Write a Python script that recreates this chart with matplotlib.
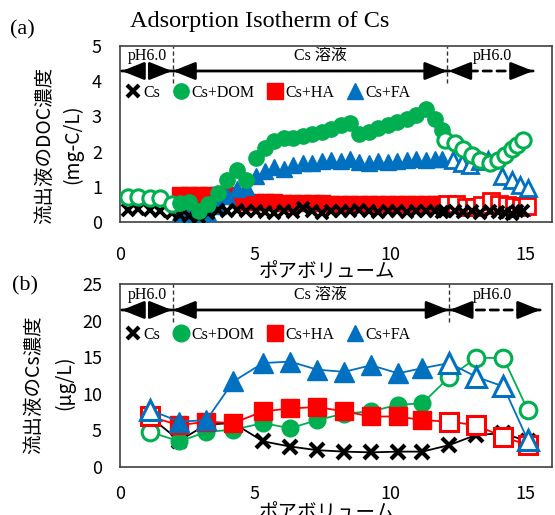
import matplotlib.pyplot as plt
from matplotlib.lines import Line2D

plt.rcParams['font.family'] = ['Noto Sans CJK JP', 'DejaVu Sans']

GREEN = '#00B050'
RED = '#FF0000'
BLUE = '#0070C0'
SERIF = ['Liberation Serif', 'Noto Sans CJK JP']

# ---- (a) DOC in effluent, mg-C/L ----
pv_a_pre = [0.31, 0.68, 1.11, 1.48, 1.91]
pv_a_main = [2.22, 2.57, 2.92, 3.27, 3.62, 3.97, 4.32, 4.67, 5.02, 5.37,
             5.72, 6.07, 6.42, 6.77, 7.12, 7.47, 7.82, 8.17, 8.52, 8.87,
             9.22, 9.57, 9.92, 10.27, 10.62, 10.97, 11.32, 11.67, 11.92]
pv_a_post = [12.04, 12.41, 12.72, 13.02, 13.33, 13.7, 14.01, 14.26, 14.51, 14.69, 14.94]
pv_a_ha_post = [12.1, 12.45, 12.8, 13.1, 13.4, 13.75, 14.05, 14.35, 14.6, 14.85, 15.06]
pv_a_fa_post = [12.35, 12.65, 12.96, 13.33, 13.64, 14.14, 14.51, 14.81, 15.12]

doc_cs_pre = [0.35, 0.36, 0.34, 0.30, 0.25]
doc_cs_main = [0.20, 0.18, 0.15, 0.25, 0.35, 0.30, 0.35, 0.30, 0.32, 0.28,
               0.25, 0.30, 0.28, 0.40, 0.30, 0.25, 0.30, 0.32, 0.30, 0.35,
               0.30, 0.28, 0.32, 0.30, 0.28, 0.30, 0.32, 0.30, 0.28]
doc_cs_post = [0.30, 0.32, 0.28, 0.30, 0.25, 0.30, 0.28, 0.25, 0.22, 0.30, 0.32]

doc_dom_pre = [0.72, 0.72, 0.68, 0.68, 0.52]
doc_dom_main = [0.53, 0.56, 0.30, 0.52, 0.82, 1.20, 1.49, 1.20, 1.82, 2.10,
                2.30, 2.38, 2.40, 2.44, 2.50, 2.55, 2.63, 2.75, 2.82, 2.50,
                2.56, 2.68, 2.76, 2.85, 2.92, 3.05, 3.22, 2.92, 2.60]
doc_dom_post = [2.34, 2.25, 2.06, 1.91, 1.77, 1.68, 1.77, 1.91, 2.06, 2.20, 2.34]

doc_ha_main = [0.76, 0.76, 0.76, 0.78, 0.78, 0.76, 0.65, 0.58, 0.58, 0.56,
               0.56, 0.55, 0.55, 0.54, 0.53, 0.53, 0.52, 0.52, 0.52, 0.50,
               0.50, 0.50, 0.50, 0.50, 0.50, 0.50, 0.50, 0.50, 0.50]
doc_ha_post = [0.52, 0.50, 0.43, 0.43, 0.48, 0.59, 0.52, 0.48, 0.46, 0.44, 0.45]

doc_fa_main = [0.25, 0.22, 0.20, 0.25, 0.45, 0.75, 0.95, 1.00, 1.30, 1.45,
               1.55, 1.50, 1.62, 1.67, 1.68, 1.72, 1.75, 1.72, 1.78, 1.70,
               1.68, 1.72, 1.70, 1.72, 1.75, 1.78, 1.75, 1.78, 1.78]
doc_fa_post = [1.77, 1.68, 1.63, 1.72, 1.77, 1.30, 1.20, 1.06, 0.96]

# ---- (b) Cs in effluent, ug/L ----
pv_b = [1.1, 2.2, 3.2, 4.2, 5.3, 6.3, 7.3, 8.3, 9.3, 10.3, 11.2, 12.2, 13.2, 14.2, 15.1]
cs_b = [6.9, 3.6, 5.8, 6.0, 3.5, 2.8, 2.3, 2.1, 2.0, 2.1, 2.1, 3.0, 4.4, 4.6, 3.5]
dom_b = [4.8, 3.5, 4.8, 5.1, 6.0, 5.3, 6.4, 7.3, 7.6, 8.5, 8.7, 12.3, 14.9, 14.9, 7.8]
ha_b = [6.9, 5.7, 6.2, 6.0, 7.6, 8.0, 8.2, 7.6, 6.9, 6.9, 6.4, 6.2, 5.7, 4.1, 3.0]
fa_b = [7.8, 6.2, 6.4, 11.7, 14.2, 14.4, 13.3, 13.0, 13.9, 12.8, 13.5, 14.2, 12.3, 11.0, 3.7]
filled_b = [1, 2, 3, 4, 5, 6, 7, 8, 9, 10]
open_b = [0, 11, 12, 13, 14]

labels = ['Cs', 'Cs+DOM', 'Cs+HA', 'Cs+FA']

fig = plt.figure(figsize=(5.55, 5.15), dpi=100)
ax_a = fig.add_axes([120/555, 1-222/515, 432/555, 176/515])
ax_b = fig.add_axes([120/555, 1-467/515, 432/555, 183/515])

HEAD = '-|>,head_length=0.75,head_width=0.3'


def style(ax, ymax, ystep, xpad):
    ax.set_xlim(0, 16)
    ax.set_ylim(0, ymax)
    ax.set_xticks([0, 5, 10, 15])
    ax.set_yticks(range(0, ymax + 1, ystep))
    ax.tick_params(axis='both', length=0, labelsize=13)
    ax.tick_params(axis='y', pad=13)
    ax.tick_params(axis='x', pad=xpad)
    for s in ax.spines.values():
        s.set_color('#404040')
        s.set_linewidth(1.2)


def arrow(ax, x0, x1, y, dashed):
    # shaft
    ax.annotate('', xy=(x0, y), xytext=(x1, y),
                arrowprops=dict(arrowstyle='-', color='black', lw=2,
                                linestyle=(0, (3, 2)) if dashed else '-',
                                shrinkA=0, shrinkB=0))
    # solid heads at both ends
    for tip, back in ((x0, x0 + 0.7), (x1, x1 - 0.7)):
        ax.annotate('', xy=(tip, y), xytext=(back, y),
                    arrowprops=dict(arrowstyle=HEAD, color='black', lw=2,
                                    mutation_scale=18, shrinkA=0, shrinkB=0))


def phases(ax, ya, yt, x_end, vlines):
    arrow(ax, 0.07, 1.92, ya, True)
    arrow(ax, vlines[0], vlines[1], ya, False)
    arrow(ax, vlines[1] + 0.04, x_end, ya, True)
    for v in vlines:
        ax.axvline(v, ymin=0.79, ymax=1, color='#333333', lw=1, ls=(0, (3, 2)))
    ax.text(1.03, yt, 'pH6.0', ha='center', va='center', family=SERIF, fontsize=11.5)
    ax.text(7.42, yt, 'Cs 溶液', ha='center', va='center', family=SERIF, fontsize=11.5)
    ax.text(13.78, yt, 'pH6.0', ha='center', va='center', family=SERIF, fontsize=11.5)


def legend(ax, ms, y):
    handles = [
        Line2D([], [], ls='none', marker='x', color='black', ms=ms * 0.75, mew=3),
        Line2D([], [], ls='none', marker='o', color=GREEN, ms=ms),
        Line2D([], [], ls='none', marker='s', color=RED, ms=ms),
        Line2D([], [], ls='none', marker='^', color=BLUE, ms=ms),
    ]
    ax.legend(handles, labels, loc='center left', bbox_to_anchor=(0.011, y), ncol=4,
              frameon=False, handlelength=1.0, handletextpad=0.15, columnspacing=0.8,
              borderpad=0, borderaxespad=0, prop={'family': SERIF, 'size': 11.5})


# (a) scattered markers, no lines
ax_a.plot(pv_a_main, doc_ha_main, ls='none', marker='s', ms=11, color=RED, zorder=3)
ax_a.plot(pv_a_ha_post, doc_ha_post, ls='none', marker='s', ms=11, mfc='white', mec=RED, mew=2, zorder=3)
ax_a.plot(pv_a_main, doc_fa_main, ls='none', marker='^', ms=12, color=BLUE, zorder=4)
ax_a.plot(pv_a_fa_post, doc_fa_post, ls='none', marker='^', ms=12, mfc='white', mec=BLUE, mew=2, zorder=4)
ax_a.plot(pv_a_pre, doc_cs_pre, ls='none', marker='x', ms=9, mew=2.8, color='black', zorder=5)
ax_a.plot(pv_a_main, doc_cs_main, ls='none', marker='x', ms=9, mew=2.8, color='black', zorder=5)
ax_a.plot(pv_a_post, doc_cs_post, ls='none', marker='x', ms=9, mew=2.8, color='black', zorder=5)
ax_a.plot(pv_a_pre, doc_dom_pre, ls='none', marker='o', ms=11, mfc='white', mec=GREEN, mew=2.2, zorder=6)
ax_a.plot(pv_a_main, doc_dom_main, ls='none', marker='o', ms=11, color=GREEN, zorder=6)
ax_a.plot(pv_a_post, doc_dom_post, ls='none', marker='o', ms=11, mfc='white', mec=GREEN, mew=2.2, zorder=6)

# (b) connected markers
series_b = [(cs_b, 'black', 'x', 10), (dom_b, GREEN, 'o', 12),
            (ha_b, RED, 's', 13), (fa_b, BLUE, '^', 14)]
for k, (vals, c, m, ms) in enumerate(series_b):
    z = 3 + k
    if m == 'x':
        ax_b.plot(pv_b, vals, color=c, lw=1.3, marker=m, ms=ms, mew=3, zorder=z)
        continue
    ax_b.plot(pv_b, vals, color=c, lw=1.3, marker=m, ms=ms, markevery=filled_b, zorder=z)
    ax_b.plot(pv_b, vals, ls='none', marker=m, ms=ms, mfc='white', mec=c, mew=2.2,
              markevery=open_b, zorder=z)

style(ax_a, 5, 1, 17)
style(ax_b, 25, 5, 13)
phases(ax_a, 4.29, 4.71, 15.3, [1.96, 12.12])
phases(ax_b, 21.45, 23.5, 15.56, [1.96, 12.17])
legend(ax_a, 11, 0.733)
legend(ax_b, 12, 0.721)

fig.text(260/555, 1-22/515, 'Adsorption Isotherm of Cs', ha='center', va='center',
         family='Liberation Serif', fontsize=17.5)
fig.text(22/555, 1-30/515, '(a)', ha='center', va='center', family='Liberation Serif', fontsize=16)
fig.text(25/555, 1-286/515, '(b)', ha='center', va='center', family='Liberation Serif', fontsize=16)

fig.text(45/555, 1-145/515, '流出液のDOC濃度', rotation=90, ha='center', va='center', fontsize=14)
fig.text(73/555, 1-144/515, '(mg-C/L)', rotation=90, ha='center', va='center', fontsize=14)
fig.text(34/555, 1-385/515, '流出液のCs濃度', rotation=90, ha='center', va='center', fontsize=14)
fig.text(65/555, 1-383/515, '(μg/L)', rotation=90, ha='center', va='center', fontsize=14)

fig.text(327/555, 1-271/515, 'ポアボリューム', ha='center', va='center', fontsize=14)
fig.text(327/555, 1-512/515, 'ポアボリューム', ha='center', va='center', fontsize=14)

fig.savefig('out.png', dpi=100)
